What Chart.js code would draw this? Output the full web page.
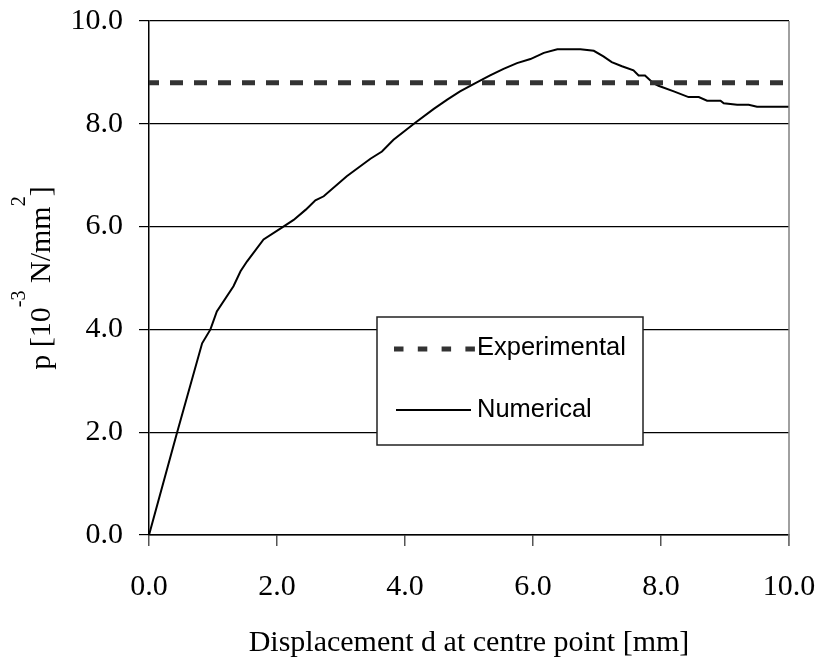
<!DOCTYPE html>
<html lang="en">
<head>
  <meta charset="UTF-8" />
  <title>Pressure vs displacement</title>
  <script src="https://cdn.jsdelivr.net/npm/chart.js"></script>
  <style>
    body {
      margin: 0;
      background: #fff;
    }
    #chart {
      display: block;
    }
  </style>
</head>
<body>

<canvas id="chart" width="818" height="659"></canvas>

<script>
  // values
  const dispNumerical = [0, 0.44, 0.83, 0.96, 1.06, 1.32, 1.43, 1.53, 1.79, 2.10, 2.26, 2.45, 2.60, 2.73,
    3.09, 3.46, 3.64, 3.82, 4.16, 4.45, 4.66, 4.86, 5.10, 5.33, 5.54, 5.75, 5.96, 6.17, 6.38, 6.74,
    6.95, 7.10, 7.23, 7.39, 7.57, 7.65, 7.75, 7.88, 7.96, 8.20, 8.43, 8.59, 8.72, 8.93, 8.98, 9.19,
    9.37, 9.50, 10.0];
  const presNumerical = [0, 2.0, 3.73, 4.0, 4.35, 4.84, 5.13, 5.32, 5.75, 6.0, 6.13, 6.33, 6.51, 6.59,
    6.98, 7.32, 7.46, 7.69, 8.02, 8.29, 8.47, 8.63, 8.79, 8.94, 9.07, 9.18, 9.26, 9.38, 9.45, 9.45,
    9.42, 9.31, 9.20, 9.12, 9.04, 8.94, 8.94, 8.79, 8.74, 8.63, 8.52, 8.52, 8.45, 8.45, 8.40, 8.37,
    8.37, 8.33, 8.33];
  const dispExperimental = [0, 10];
  const presExperimental = [8.8, 8.8];
  const legendLabels = ['Experimental', 'Numerical'];

  const serif = '"Liberation Serif", "Times New Roman", serif';
  const sans = '"Liberation Sans", Arial, sans-serif';

  // axis titles with superscripts, right border and the boxed legend
  const decorations = {
    id: 'decorations',
    afterDraw(chart) {
      const ctx = chart.ctx;
      const area = chart.chartArea;
      ctx.save();

      // right frame line
      ctx.strokeStyle = '#808080';
      ctx.lineWidth = 1.5;
      ctx.beginPath();
      ctx.moveTo(area.right, area.top);
      ctx.lineTo(area.right, area.bottom + 11);
      ctx.stroke();

      // x title
      ctx.fillStyle = '#000';
      ctx.font = '30px ' + serif;
      ctx.textAlign = 'center';
      ctx.textBaseline = 'alphabetic';
      ctx.fillText('Displacement d at centre point [mm]', (area.left + area.right) / 2, 651);

      // y title, rotated, with superscripts
      const parts = [
        { t: 'p [10', sup: false },
        { t: '-3', sup: true },
        { t: ' N/mm', sup: false },
        { t: '2', sup: true },
        { t: ']', sup: false }
      ];
      const fontFor = p => (p.sup ? '20px ' : '30px ') + serif;
      let total = 0;
      parts.forEach(p => { ctx.font = fontFor(p); total += ctx.measureText(p.t).width; });
      ctx.translate(50, (area.top + area.bottom) / 2);
      ctx.rotate(-Math.PI / 2);
      ctx.textAlign = 'left';
      let x = -total / 2;
      parts.forEach(p => {
        ctx.font = fontFor(p);
        ctx.fillText(p.t, x, p.sup ? -25 : 0);
        x += ctx.measureText(p.t).width;
      });
      ctx.setTransform(1, 0, 0, 1, 0, 0);

      // legend box
      const bx = 377, by = 317, bw = 266, bh = 128;
      ctx.fillStyle = '#fff';
      ctx.fillRect(bx, by, bw, bh);
      ctx.strokeStyle = '#222';
      ctx.lineWidth = 1.5;
      ctx.strokeRect(bx, by, bw, bh);

      ctx.strokeStyle = '#333';
      ctx.lineWidth = 5;
      ctx.setLineDash([9.5, 14.3]);
      ctx.beginPath();
      ctx.moveTo(394, 349);
      ctx.lineTo(475, 349);
      ctx.stroke();
      ctx.setLineDash([]);

      ctx.strokeStyle = '#000';
      ctx.lineWidth = 2;
      ctx.beginPath();
      ctx.moveTo(396, 410);
      ctx.lineTo(471, 410);
      ctx.stroke();

      ctx.fillStyle = '#000';
      ctx.font = '25.5px ' + sans;
      ctx.textAlign = 'left';
      ctx.fillText(legendLabels[0], 477, 355);
      ctx.fillText(legendLabels[1], 477, 416.5);

      ctx.restore();
    }
  };

  new Chart(document.getElementById('chart'), {
    type: 'line',
    data: {
      datasets: [
        {
          label: legendLabels[0],
          data: dispExperimental.map((d, i) => ({ x: d, y: presExperimental[i] })),
          borderColor: '#333',
          borderWidth: 5,
          borderDash: [13, 11],
          borderDashOffset: 3,
          borderCapStyle: 'butt',
          pointRadius: 0,
          tension: 0
        },
        {
          label: legendLabels[1],
          data: dispNumerical.map((d, i) => ({ x: d, y: presNumerical[i] })),
          borderColor: '#000',
          borderWidth: 2,
          pointRadius: 0,
          tension: 0
        }
      ]
    },
    options: {
      responsive: false,
      animation: false,
      layout: { padding: { top: 21, right: 29, left: 0, bottom: 0 } },
      plugins: {
        legend: { display: false },
        tooltip: { enabled: false }
      },
      scales: {
        x: {
          type: 'linear',
          min: 0,
          max: 10,
          afterFit: scale => {
            scale.height = 124;
            scale.paddingLeft = 0;
            scale.paddingRight = 0;
          },
          ticks: {
            stepSize: 2,
            padding: 23,
            color: '#000',
            font: { family: serif, size: 30 },
            callback: v => v.toFixed(1)
          },
          grid: {
            drawOnChartArea: false,
            drawTicks: true,
            tickLength: 11,
            color: '#555',
            lineWidth: 1.5
          },
          border: { color: '#000', width: 1.5 }
        },
        y: {
          min: 0,
          max: 10,
          afterFit: scale => {
            scale.width = 149;
            scale.paddingTop = 0;
            scale.paddingBottom = 0;
          },
          ticks: {
            stepSize: 2,
            padding: 16,
            color: '#000',
            font: { family: serif, size: 30 },
            callback: v => v.toFixed(1)
          },
          grid: {
            color: '#000',
            lineWidth: 1.2,
            tickLength: 10
          },
          border: { color: '#000', width: 1.5 }
        }
      }
    },
    plugins: [decorations]
  });
</script>
</body>
</html>
